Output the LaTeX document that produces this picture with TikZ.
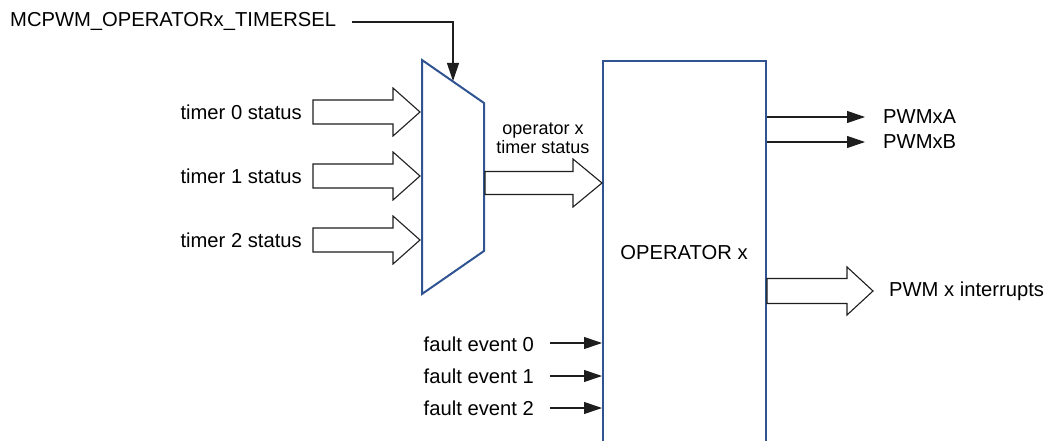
\documentclass[tikz,border=0pt]{standalone}
\usepackage{fontspec}
\setmainfont{Liberation Sans}
\usetikzlibrary{arrows.meta}
\definecolor{boxblue}{RGB}{47,84,145}
\definecolor{lineblack}{RGB}{30,30,30}
\tikzset{
  lbl/.style={inner sep=0pt, font=\fontsize{20.2}{23}\selectfont},
  small/.style={inner sep=0pt, font=\fontsize{18}{20}\selectfont, align=center},
  blue/.style={draw=boxblue, line width=2pt},
  fat/.style={draw=lineblack, fill=white, line width=1.1pt, line join=miter},
  thin/.style={draw=lineblack, line width=1.1pt, -{Triangle[length=18pt,width=12pt]}},
}
\newcommand{\fatarrow}[5]{% start x, tip x, y, half shaft, head length
  \draw[fat] (#1,#3-#4) -- (#2-#5,#3-#4) -- (#2-#5,#3-24) -- (#2,#3) -- (#2-#5,#3+24) -- (#2-#5,#3+#4) -- (#1,#3+#4) -- cycle;}
\begin{document}
\begin{tikzpicture}[x=1pt,y=-1pt]
\useasboundingbox (0,0) rectangle (1045,441);
\clip (0,0) rectangle (1045,441);
% mux
\coordinate (m1) at (422,60);
\coordinate (m2) at (484,103);
\coordinate (m3) at (484,251);
\coordinate (m4) at (422,294);
\draw[blue, line join=miter, fill=white] (m1) -- (m2) -- (m3) -- (m4) -- cycle;
% operator box
\draw[blue, fill=white] (603,61) rectangle (766,470);
\node[lbl] (op) at (684,253) {OPERATOR x};
% select
\node[lbl, anchor=west] (sel) at (10,21) {MCPWM\_OPERATORx\_TIMERSEL};
\coordinate (muxsel) at (453,81);
\draw[thin] (352,22) -| (muxsel);
% timer inputs
\node[lbl, anchor=east] (t0) at (302,112) {timer 0 status};
\node[lbl, anchor=east] (t1) at (302,176) {timer 1 status};
\node[lbl, anchor=east] (t2) at (302,240) {timer 2 status};
\fatarrow{313}{420}{112}{12}{27}
\fatarrow{313}{420}{176}{12}{27}
\fatarrow{313}{420}{240}{12}{27}
% mux output
\node[small] (ots) at (543,138) {operator x\\[-1pt]timer status};
\fatarrow{485}{602}{183}{11.5}{29}
% outputs
\node[lbl, anchor=west] (pa) at (883,117) {PWMxA};
\node[lbl, anchor=west] (pb) at (883,142) {PWMxB};
\draw[thin] (767,117) -- (865,117);
\draw[thin] (767,142) -- (865,142);
\node[lbl, anchor=west] (pi) at (889,291) {PWM x interrupts};
\fatarrow{767}{873}{291}{12.5}{26}
% fault events
\node[lbl, anchor=east] (f0) at (534,344) {fault event 0};
\node[lbl, anchor=east] (f1) at (534,376) {fault event 1};
\node[lbl, anchor=east] (f2) at (534,408) {fault event 2};
\draw[thin] (550,343) -- (602,343);
\draw[thin] (550,376) -- (602,376);
\draw[thin] (550,408) -- (602,408);
\end{tikzpicture}
\end{document}
